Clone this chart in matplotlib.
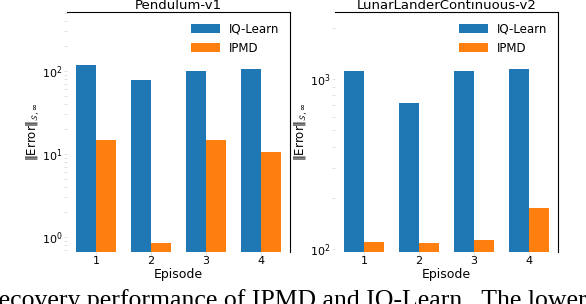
import numpy as np
import matplotlib.pyplot as plt

episodes = [1, 2, 3, 4]
pend_iq = [118, 78, 100, 106]
pend_ipmd = [14.7, 0.85, 14.7, 10.6]
lunar_iq = [1114, 722, 1114, 1146]
lunar_ipmd = [110, 108, 113, 174]

blue = '#1f77b4'
orange = '#ff7f0e'

def DrawPanel(ax, title, iq, ipmd, ylim):
    x = np.array(episodes)
    w = 0.36
    ax.bar(x - w / 2, iq, w, color=blue, label='IQ-Learn')
    ax.bar(x + w / 2, ipmd, w, color=orange, label='IPMD')
    ax.set_yscale('log')
    ax.set_ylim(ylim)
    ax.set_xlim(0.47, 4.53)
    ax.set_xticks(episodes)
    ax.set_title(title, fontsize=9.5, pad=1)
    ax.set_xlabel('Episode', fontsize=9, labelpad=1)
    ax.set_ylabel(r'$\|\mathrm{Error}\|_{\mathcal{S},\infty}$', fontsize=8.5, labelpad=0)
    ax.spines['left'].set_visible(False)
    ax.spines['bottom'].set_visible(False)
    ax.tick_params(which='both', color='#dddddd', length=2, width=0.6,
                   labelsize=8, pad=1)
    ax.legend(frameon=False, fontsize=8.5, loc='upper right',
              handlelength=2.4, borderaxespad=0.5)


fig = plt.figure(figsize=(5.86, 3.04), dpi=100)
ax1 = fig.add_axes([67 / 586, 1 - 252 / 304, 223 / 586, 240 / 304])
ax2 = fig.add_axes([335 / 586, 1 - 252 / 304, 223 / 586, 240 / 304])

DrawPanel(ax1, 'Pendulum-v1', pend_iq, pend_ipmd, (0.66, 513))
DrawPanel(ax2, 'LunarLanderContinuous-v2', lunar_iq, lunar_ipmd, (96, 2478))

fig.text(-10 / 586, 1 - 289 / 304,
         'recovery performance of IPMD and IQ-Learn.  The lower',
         family='Liberation Serif', fontsize=18.5, va='top', ha='left')

fig.savefig('out.png', dpi=100)
